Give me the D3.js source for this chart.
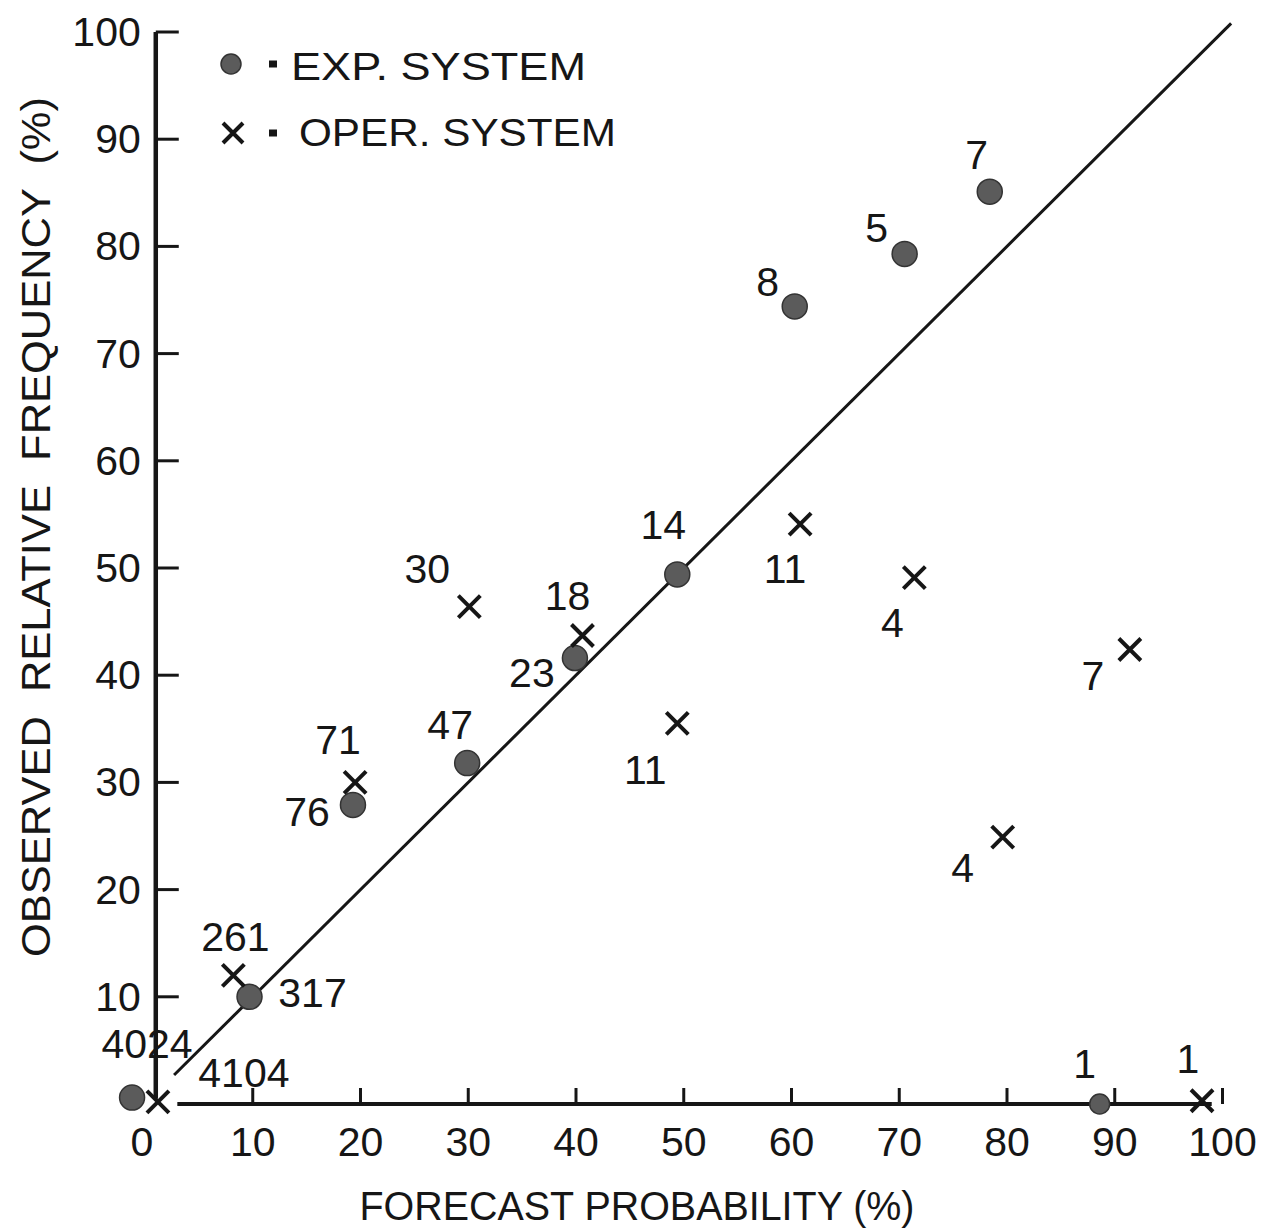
<!DOCTYPE html>
<html>
<head>
<meta charset="utf-8">
<script src="https://cdn.jsdelivr.net/npm/d3@7"></script>
<style>
  body { margin: 0; background: #fff; }
  text { font-family: "Liberation Sans", Arial, sans-serif; fill: #161616; }
</style>
</head>
<body>
<div id="chart"></div>
<script>
// values
const forecastExp = [-1.2, 9.7, 19.3, 29.9, 39.9, 49.4, 60.3, 70.5, 78.4, 88.6];
const observedExp = [0.6, 10.0, 27.9, 31.8, 41.6, 49.4, 74.4, 79.3, 85.1, 0];
const countsExp = ["4024", "317", "76", "47", "23", "14", "8", "5", "7", "1"];

const forecastOper = [1.2, 8.2, 19.5, 30.1, 40.6, 49.4, 60.8, 71.4, 79.6, 91.4, 98.1];
const observedOper = [0.2, 12.0, 30.0, 46.4, 43.7, 35.5, 54.1, 49.1, 24.9, 42.4, 0.3];
const countsOper = ["4104", "261", "71", "30", "18", "11", "11", "4", "4", "7", "1"];

const xTicks = [0, 10, 20, 30, 40, 50, 60, 70, 80, 90, 100];
const yTicks = [10, 20, 30, 40, 50, 60, 70, 80, 90, 100];

// where each count label sits relative to its marker (px)
const expLabelOffset = [[15, -54], [63, -4], [-46, 7], [-17, -38], [-43, 15], [-14, -49], [-27, -24], [-28, -26], [-13, -37], [-15, -40]];
const operLabelOffset = [[86, -29], [2, -38], [-17, -42], [-42, -38], [-15, -40], [-32, 47], [-15, 45], [-22, 45], [-40, 31], [-37, 27], [-14, -42]];

const width = 1267, height = 1231;

const svg = d3.select("#chart")
    .append("svg")
    .attr("width", width)
    .attr("height", height);

svg.append("rect").attr("width", width).attr("height", height).attr("fill", "#fff");

const x = d3.scaleLinear().domain([0, 100]).range([145, 1222.5]);
const y = d3.scaleLinear().domain([0, 100]).range([1104, 32]);

const ink = "#161616";

// y axis: line drawn a little right of x=0, ticks pointing right
const yAxisX = x(1);
svg.append("line")
    .attr("x1", yAxisX).attr("x2", yAxisX)
    .attr("y1", y(0.5)).attr("y2", y(100))
    .attr("stroke", ink).attr("stroke-width", 4.5);

svg.selectAll(".ytick")
    .data(yTicks)
    .enter()
    .append("line")
    .attr("x1", yAxisX).attr("x2", yAxisX + 23)
    .attr("y1", d => y(d)).attr("y2", d => y(d))
    .attr("stroke", ink).attr("stroke-width", 3);

svg.selectAll(".ylab")
    .data(yTicks)
    .enter()
    .append("text")
    .attr("x", yAxisX - 15)
    .attr("y", d => y(d))
    .attr("text-anchor", "end")
    .attr("dominant-baseline", "central")
    .attr("font-size", 41)
    .text(d => d);

// x axis: starts just after the origin markers, ticks pointing up
svg.append("line")
    .attr("x1", x(3)).attr("x2", x(99))
    .attr("y1", y(0)).attr("y2", y(0))
    .attr("stroke", ink).attr("stroke-width", 4);

svg.selectAll(".xtick")
    .data(xTicks.filter(d => d > 0))
    .enter()
    .append("line")
    .attr("x1", d => x(d)).attr("x2", d => x(d))
    .attr("y1", y(0)).attr("y2", y(0) - 16)
    .attr("stroke", ink).attr("stroke-width", 3);

svg.selectAll(".xlab")
    .data(xTicks)
    .enter()
    .append("text")
    .attr("x", d => x(d) - (d === 0 ? 3 : 0))
    .attr("y", y(0) + 38)
    .attr("text-anchor", "middle")
    .attr("dominant-baseline", "central")
    .attr("font-size", 41)
    .text(d => d);

// perfect reliability diagonal
svg.append("line")
    .attr("x1", x(2.7)).attr("y1", y(2.7))
    .attr("x2", x(100.8)).attr("y2", y(100.8))
    .attr("stroke", ink).attr("stroke-width", 3);

// axis titles
svg.append("text")
    .attr("x", 637).attr("y", 1206)
    .attr("text-anchor", "middle")
    .attr("dominant-baseline", "central")
    .attr("font-size", 40)
    .attr("textLength", 555)
    .attr("lengthAdjust", "spacingAndGlyphs")
    .text("FORECAST PROBABILITY (%)");

svg.append("text")
    .attr("transform", "translate(36,527) rotate(-90)")
    .attr("text-anchor", "middle")
    .attr("dominant-baseline", "central")
    .attr("font-size", 40)
    .attr("textLength", 860)
    .attr("lengthAdjust", "spacingAndGlyphs")
    .attr("xml:space", "preserve")
    .text("OBSERVED  RELATIVE  FREQUENCY  (%)");

// markers
const cross = (cx, cy, s) => `M${cx - s},${cy - s}L${cx + s},${cy + s}M${cx - s},${cy + s}L${cx + s},${cy - s}`;

const expData = forecastExp.map((f, i) => ({f: f, o: observedExp[i], n: countsExp[i], off: expLabelOffset[i]}));
const operData = forecastOper.map((f, i) => ({f: f, o: observedOper[i], n: countsOper[i], off: operLabelOffset[i]}));

svg.selectAll(".exp")
    .data(expData)
    .enter()
    .append("circle")
    .attr("cx", d => x(d.f))
    .attr("cy", d => y(d.o))
    .attr("r", (d, i) => i === expData.length - 1 ? 10 : 12.5)
    .attr("fill", "#5b5b5b")
    .attr("stroke", "#333")
    .attr("stroke-width", 1.5);

svg.selectAll(".oper")
    .data(operData)
    .enter()
    .append("path")
    .attr("d", d => cross(x(d.f), y(d.o), 11))
    .attr("stroke", ink)
    .attr("stroke-width", 4)
    .attr("fill", "none");

svg.selectAll(".explab")
    .data(expData)
    .enter()
    .append("text")
    .attr("x", d => x(d.f) + d.off[0])
    .attr("y", d => y(d.o) + d.off[1])
    .attr("text-anchor", "middle")
    .attr("dominant-baseline", "central")
    .attr("font-size", 41)
    .text(d => d.n);

svg.selectAll(".operlab")
    .data(operData)
    .enter()
    .append("text")
    .attr("x", d => x(d.f) + d.off[0])
    .attr("y", d => y(d.o) + d.off[1])
    .attr("text-anchor", "middle")
    .attr("dominant-baseline", "central")
    .attr("font-size", 41)
    .text(d => d.n);

// legend
const legend = svg.append("g");
legend.append("circle")
    .attr("cx", 231).attr("cy", 64).attr("r", 10)
    .attr("fill", "#5b5b5b").attr("stroke", "#333").attr("stroke-width", 1.5);
legend.append("path")
    .attr("d", cross(233, 133, 10))
    .attr("stroke", ink).attr("stroke-width", 4).attr("fill", "none");
[64, 133].forEach(cy => {
    legend.append("rect")
        .attr("x", 269).attr("y", cy - 3.5)
        .attr("width", 8).attr("height", 7)
        .attr("fill", ink);
});
legend.append("text")
    .attr("x", 291).attr("y", 67)
    .attr("dominant-baseline", "central")
    .attr("font-size", 38)
    .attr("textLength", 295)
    .attr("lengthAdjust", "spacingAndGlyphs")
    .text("EXP. SYSTEM");
legend.append("text")
    .attr("x", 299).attr("y", 133)
    .attr("dominant-baseline", "central")
    .attr("font-size", 38)
    .attr("textLength", 317)
    .attr("lengthAdjust", "spacingAndGlyphs")
    .text("OPER. SYSTEM");
</script>
</body>
</html>
